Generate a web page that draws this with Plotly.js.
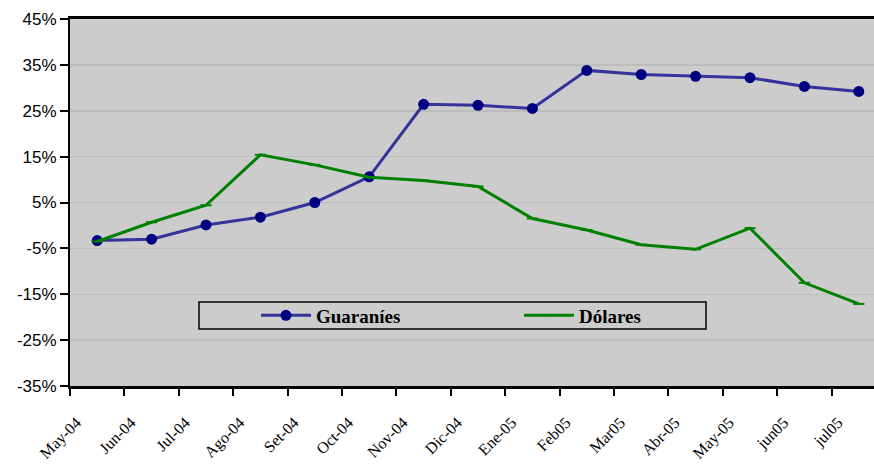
<!DOCTYPE html>
<html><head><meta charset="utf-8">
<script src="https://cdn.plot.ly/plotly-3.0.1.min.js"></script>
<style>html,body{margin:0;padding:0;background:#fff}#c{width:874px;height:466px}</style>
</head><body><div id="c"></div>
<script>
const categories = ["May-04","Jun-04","Jul-04","Ago-04","Set-04","Oct-04","Nov-04","Dic-04","Ene-05","Feb05","Mar05","Abr-05","May-05","jun05","jul05"];
const guaranies = [-3.3, -3.0, 0.1, 1.8, 5.0, 10.6, 26.4, 26.2, 25.5, 33.8, 32.9, 32.5, 32.2, 30.3, 29.2];
const dolares = [-3.5, 0.7, 4.4, 15.4, 13.2, 10.5, 9.8, 8.5, 1.5, -1.0, -4.2, -5.2, -0.6, -12.5, -17.1];
const yTicks = [-35, -25, -15, -5, 5, 15, 25, 35, 45];

const idx = categories.map((c, i) => i);
const labelPos = idx.map(i => i - 0.38);
const bounds = categories.concat([""]).map((c, i) => i - 0.5);

const traces = [
  {x: idx, y: guaranies, name: "Guaraníes", type: "scatter", mode: "lines+markers",
   line: {color: "#333399", width: 3}, marker: {color: "#000080", size: 11, symbol: "circle"}},
  {x: idx, y: dolares, name: "Dólares", type: "scatter", mode: "lines+markers",
   line: {color: "#008000", width: 3}, marker: {color: "#008000", size: 8, symbol: "line-ew", line: {color: "#008000", width: 2}}}
];

const W = 874, H = 466, L = 70, R = 0, T = 19, B = 80;
const pw = W - L - R, ph = H - T - B;
function px(x){return (x - L)/pw;}
function py(y){return 1 - (y - T)/ph;}

const layout = {
  width: W, height: H,
  margin: {l: L, r: R, t: T, b: B, pad: 0},
  paper_bgcolor: "#ffffff", plot_bgcolor: "#cccccc",
  showlegend: true,
  legend: {orientation: "h", x: px(256), xanchor: "left", y: py(315.5), yanchor: "middle",
    bgcolor: "rgba(0,0,0,0)", borderwidth: 0, entrywidth: 198, entrywidthmode: "pixels",
    font: {family: "Liberation Serif, Times New Roman, serif", size: 19, color: "#000", weight: "bold"},
    itemwidth: 50},
  xaxis: {range: [-0.5, -0.5 + (W - L) / 54.4], tickmode: "array", tickvals: labelPos, ticktext: categories,
    tickangle: -45, ticks: "", showgrid: false, zeroline: false, ticklabelstandoff: 18,
    showline: true, linecolor: "#000", linewidth: 3, mirror: true,
    tickfont: {family: "Liberation Serif, Times New Roman, serif", size: 16, color: "#000"},
    minor: {tickmode: "array", tickvals: bounds, ticks: "outside", ticklen: 7, tickwidth: 2, tickcolor: "#000", showgrid: false}},
  yaxis: {range: [-35, 45], tickmode: "array", tickvals: yTicks, ticktext: yTicks.map(v => v + "%"),
    ticks: "outside", ticklen: 8, tickwidth: 2, tickcolor: "#000",
    showline: true, linecolor: "#000", linewidth: 2, zeroline: false,
    showgrid: true, gridcolor: "#bdbdbd", gridwidth: 1.5,
    tickfont: {family: "Liberation Sans, Arial, sans-serif", size: 17, color: "#000"}},
  shapes: [
    {type: "rect", xref: "paper", yref: "paper", x0: px(199), x1: px(706), y0: py(302), y1: py(329),
     line: {color: "#000", width: 1.5}, fillcolor: "rgba(0,0,0,0)"}
  ]
};
Plotly.newPlot("c", traces, layout, {displayModeBar: false, staticPlot: true});
</script></body></html>
